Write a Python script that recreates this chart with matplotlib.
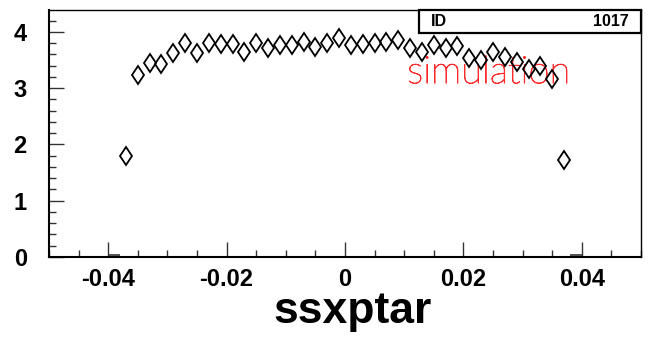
import matplotlib
matplotlib.use("Agg")
import matplotlib.pyplot as plt
import matplotlib.patheffects as pe
from matplotlib.patches import Rectangle
from matplotlib.ticker import MultipleLocator, FixedLocator
import numpy as np

# ---- data ----
bin_centers = [-0.037, -0.035, -0.033, -0.031, -0.029, -0.027, -0.025, -0.023,
               -0.021, -0.019, -0.017, -0.015, -0.013, -0.011, -0.009, -0.007,
               -0.005, -0.003, -0.001, 0.001, 0.003, 0.005, 0.007, 0.009,
               0.011, 0.013, 0.015, 0.017, 0.019, 0.021, 0.023, 0.025,
               0.027, 0.029, 0.031, 0.033, 0.035, 0.037]
bin_values = [1.80, 3.23, 3.44, 3.43, 3.63, 3.80, 3.62, 3.80,
              3.78, 3.78, 3.65, 3.80, 3.71, 3.77, 3.76, 3.82,
              3.73, 3.80, 3.89, 3.76, 3.78, 3.80, 3.82, 3.85,
              3.72, 3.65, 3.77, 3.71, 3.75, 3.53, 3.50, 3.65,
              3.56, 3.47, 3.34, 3.40, 3.16, 1.72]
edge_centers = [-0.039, 0.039]
edge_values = [0.03, 0.03]
bin_half_width = 0.001
x_ticks = [-0.04, -0.02, 0, 0.02, 0.04]
x_tick_labels = ["-0.04", "-0.02", "0", "0.02", "0.04"]
y_ticks = [0, 1, 2, 3, 4]
y_tick_labels = ["0", "1", "2", "3", "4"]
x_title = "ssxptar"
id_label = "ID"
id_value = "1017"
annotation = "simulation"

W, H = 650, 337
fig = plt.figure(figsize=(W / 100, H / 100), dpi=100)
L, R, B, T = 49, 641, 257, 10
ax = fig.add_axes([L / W, 1 - B / H, (R - L) / W, (B - T) / H])

ax.plot(bin_centers, bin_values, linestyle="none", marker="d", markersize=9.5,
        markerfacecolor="none", markeredgecolor="black", markeredgewidth=1.3,
        zorder=4)
ax.errorbar(edge_centers, edge_values, xerr=bin_half_width, fmt="none",
            ecolor="#333333", elinewidth=1.2, capsize=0)

ax.set_xlim(-0.05, 0.05)
ax.set_ylim(0, 4.39)

ax.xaxis.set_major_locator(FixedLocator(x_ticks))
ax.set_xticklabels(x_tick_labels)
ax.xaxis.set_minor_locator(MultipleLocator(0.005))
ax.yaxis.set_major_locator(FixedLocator(y_ticks))
ax.set_yticklabels(y_tick_labels)
ax.yaxis.set_minor_locator(MultipleLocator(0.2))

fam = ["Liberation Sans", "DejaVu Sans"]
ax.tick_params(axis="both", which="both", direction="in", top=False, right=False,
               color="#333333")
ax.tick_params(axis="x", which="major", length=10.5, width=1.0, pad=8)
ax.tick_params(axis="x", which="minor", length=5, width=1.0)
ax.tick_params(axis="y", which="major", length=10.5, width=1.0, pad=16)
ax.tick_params(axis="y", which="minor", length=5, width=1.0)
for lab in ax.get_xticklabels() + ax.get_yticklabels():
    lab.set_fontfamily(fam)
    lab.set_fontweight("bold")
    lab.set_fontsize(17)

for side in ["left", "bottom"]:
    ax.spines[side].set_linewidth(1.5)
for side in ["top", "right"]:
    ax.spines[side].set_linewidth(1.0)

fig.text(353 / W, 1 - 311 / H, x_title, ha="center", va="center",
         fontsize=32, fontweight="bold", family=fam)

# ID box
bx0, bx1, by0, by1 = 419, 641, 10, 33
fig.patches.append(Rectangle((bx0 / W, 1 - by1 / H), (bx1 - bx0) / W, (by1 - by0) / H,
                             transform=fig.transFigure, facecolor="white",
                             edgecolor="black", linewidth=1.6, zorder=5))
fig.text(431 / W, 1 - 22 / H, id_label, ha="left", va="center", fontsize=11.5,
         fontweight="bold", family=fam, zorder=6)
fig.text(629 / W, 1 - 22 / H, id_value, ha="right", va="center", fontsize=11.5,
         fontweight="bold", family=fam, zorder=6)

ax.text(0.0105, 3.09, annotation, ha="left", va="baseline", fontsize=27.5,
        color="#ff2a2a", family=["Lato", "DejaVu Sans"], fontweight="light",
        zorder=3,
        path_effects=[pe.withStroke(linewidth=0.6, foreground="#ff2a2a")])

fig.savefig("out.png", dpi=100)
